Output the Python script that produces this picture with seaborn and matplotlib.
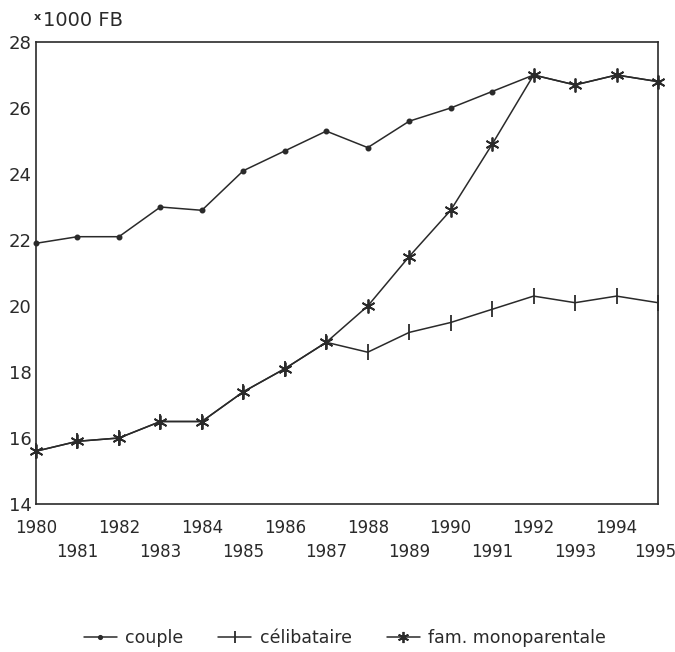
import matplotlib
matplotlib.use("Agg")
import matplotlib.pyplot as plt
import matplotlib.transforms as mtransforms
import seaborn as sns
import pandas as pd
from matplotlib.lines import Line2D

years = list(range(1980, 1996))
couple = [21.9, 22.1, 22.1, 23.0, 22.9, 24.1, 24.7, 25.3, 24.8, 25.6, 26.0, 26.5, 27.0, 26.7, 27.0, 26.8]
celibataire = [15.6, 15.9, 16.0, 16.5, 16.5, 17.4, 18.1, 18.9, 18.6, 19.2, 19.5, 19.9, 20.3, 20.1, 20.3, 20.1]
monoparentale = [15.6, 15.9, 16.0, 16.5, 16.5, 17.4, 18.1, 18.9, 20.0, 21.5, 22.9, 24.9, 27.0, 26.7, 27.0, 26.8]
series_names = ["couple", "célibataire", "fam. monoparentale"]
y_ticks = [14, 16, 18, 20, 22, 24, 26, 28]
y_label = "1000 FB"

series_values = {"couple": couple, "célibataire": celibataire, "fam. monoparentale": monoparentale}

sns.set_style("white")
plt.rcParams["font.family"] = ["DejaVu Sans"]
ink = "#2a2a2a"

fig = plt.figure(figsize=(6.75, 6.52), dpi=100)
ax = fig.add_axes([36 / 675, 1 - 504 / 652, (658 - 36) / 675, (504 - 42) / 652])

markers = {"couple": "o", "célibataire": "|", "fam. monoparentale": (6, 2, 0)}
sizes_ms = {"couple": 3, "célibataire": 11, "fam. monoparentale": 10}

for n in series_names:
    d = pd.DataFrame({"année": years, "valeur": series_values[n]})
    sns.lineplot(data=d, x="année", y="valeur", ax=ax, color=ink, linewidth=1.1,
                 marker=markers[n], markersize=sizes_ms[n], markeredgewidth=1.3,
                 markerfacecolor=ink, markeredgecolor=ink, legend=False, clip_on=False)

ax.set_xlim(1980, 1995)
ax.set_ylim(14, 28)
ax.set_xlabel("")
ax.set_ylabel("")
for s in ax.spines.values():
    s.set_color(ink)
    s.set_linewidth(1.2)

ax.set_yticks(y_ticks)
ax.set_yticklabels([str(v) for v in y_ticks], fontsize=13, color=ink)
ax.tick_params(axis="y", direction="in", length=4.5, width=1, pad=3, colors=ink)

even = [y for y in years if y % 2 == 0]
odd = [y for y in years if y % 2 == 1]
ax.set_xticks(even)
ax.set_xticklabels([str(y) for y in even], fontsize=12, color=ink)
ax.set_xticks(odd, minor=True)
odd_labels = ax.set_xticklabels([str(y) for y in odd], minor=True, fontsize=12, color=ink)
ax.tick_params(axis="x", which="major", direction="in", length=7.5, width=1, pad=11, colors=ink)
ax.tick_params(axis="x", which="minor", direction="in", length=7.5, width=1, pad=28, colors=ink)

# nudge the last label (1995) slightly left so it stays inside the figure
last = odd_labels[-1]
last.set_transform(last.get_transform() + mtransforms.ScaledTranslation(-3 / 100, 0, fig.dpi_scale_trans))

fig.text(34 / 675, 1 - 17 / 652, "x", fontsize=8, color=ink, va="center", ha="left", fontweight="bold")
fig.text(43 / 675, 1 - 21 / 652, y_label, fontsize=14, color=ink, va="center", ha="left")

handles = [Line2D([], [], color=ink, lw=1.1, marker=markers[n], markersize=sizes_ms[n] * 0.8,
                  markeredgewidth=1.3, markerfacecolor=ink, markeredgecolor=ink) for n in series_names]
fig.legend(handles, series_names, loc="center", bbox_to_anchor=(345 / 675, 1 - 638 / 652),
           ncol=3, frameon=False, fontsize=12.5, handlelength=1.9, columnspacing=2.0,
           handletextpad=0.5, labelcolor=ink)

fig.savefig("out.png", dpi=100, facecolor="white")
